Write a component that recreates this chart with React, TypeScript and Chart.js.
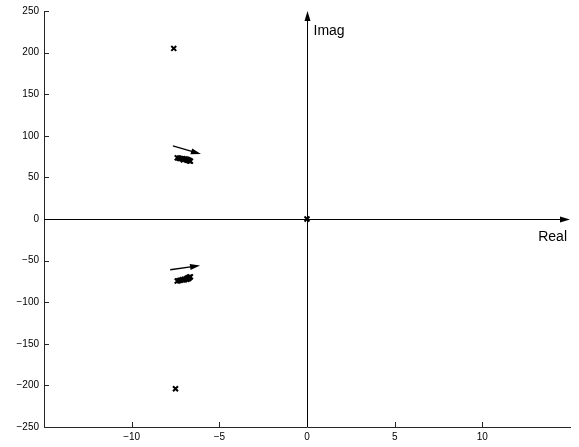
import React, { useEffect, useRef } from "react";
import { Chart, registerables } from "chart.js";
Chart.register(...registerables);

const xTickValues = [-10, -5, 0, 5, 10];
const yTickValues = [-250, -200, -150, -100, -50, 0, 50, 100, 150, 200, 250];

// isolated poles
const polesX = [-7.6, -7.5, 0];
const polesY = [205, -204, 0];

// upper cluster of poles
const upperX = [-7.4, -7.3, -7.2, -7.1, -7.0, -6.9, -6.85, -6.8, -6.75, -6.7, -6.65, -6.8, -6.95, -7.05];
const upperY = [73.5, 73, 72.5, 72.5, 72, 71.5, 71.5, 71, 70.5, 70, 69.5, 70.5, 72, 71];

// lower cluster of poles
const lowerX = [-7.4, -7.3, -7.2, -7.1, -7.0, -6.9, -6.85, -6.8, -6.75, -6.7, -6.65, -6.85, -7.0, -6.75];
const lowerY = [-74.5, -74, -73.5, -73, -72.5, -72, -71.5, -71, -70.5, -70, -69.5, -72.5, -73, -71.5];

// arrows: start and end coordinates
const arrowStartX = [-7.65, -7.8];
const arrowStartY = [88, -61];
const arrowEndX = [-6.05, -6.1];
const arrowEndY = [78, -56];

const toPts = (xs: number[], ys: number[]) => xs.map((x, i) => ({ x, y: ys[i] }));

const minus = (v: number) => (v < 0 ? "\u2212" + Math.abs(v) : String(v));

function drawArrow(ctx: CanvasRenderingContext2D, x1: number, y1: number, x2: number, y2: number, len: number, half: number) {
  const a = Math.atan2(y2 - y1, x2 - x1);
  ctx.beginPath();
  ctx.moveTo(x1, y1);
  ctx.lineTo(x2 - Math.cos(a) * len * 0.6, y2 - Math.sin(a) * len * 0.6);
  ctx.stroke();
  ctx.beginPath();
  ctx.moveTo(x2, y2);
  ctx.lineTo(x2 - Math.cos(a) * len - Math.sin(a) * half, y2 - Math.sin(a) * len + Math.cos(a) * half);
  ctx.lineTo(x2 - Math.cos(a) * len + Math.sin(a) * half, y2 - Math.sin(a) * len - Math.cos(a) * half);
  ctx.closePath();
  ctx.fill();
}

const overlay = {
  id: "overlay",
  afterDatasetsDraw(chart: any) {
    const ctx = chart.ctx as CanvasRenderingContext2D;
    const xs = chart.scales.x;
    const ys = chart.scales.y;
    const area = chart.chartArea;
    ctx.save();
    // inward tick marks
    ctx.strokeStyle = "#262626";
    ctx.lineWidth = 1;
    xTickValues.forEach((v) => {
      const px = Math.round(xs.getPixelForValue(v)) + 0.5;
      ctx.beginPath();
      ctx.moveTo(px, area.bottom);
      ctx.lineTo(px, area.bottom - 5);
      ctx.stroke();
    });
    yTickValues.forEach((v) => {
      const py = Math.round(ys.getPixelForValue(v)) + 0.5;
      ctx.beginPath();
      ctx.moveTo(area.left, py);
      ctx.lineTo(area.left + 5, py);
      ctx.stroke();
    });
    // coordinate axes with arrows
    ctx.strokeStyle = "#000";
    ctx.fillStyle = "#000";
    ctx.lineWidth = 1;
    const y0 = Math.round(ys.getPixelForValue(0)) + 0.5;
    const x0 = Math.round(xs.getPixelForValue(0)) + 0.5;
    drawArrow(ctx, area.left, y0, area.right, y0, 10, 3);
    drawArrow(ctx, x0, area.bottom, x0, area.top, 10, 3);
    // data arrows
    ctx.lineWidth = 1.3;
    for (let i = 0; i < arrowStartX.length; i++) {
      drawArrow(
        ctx,
        xs.getPixelForValue(arrowStartX[i]),
        ys.getPixelForValue(arrowStartY[i]),
        xs.getPixelForValue(arrowEndX[i]),
        ys.getPixelForValue(arrowEndY[i]),
        10,
        3
      );
    }
    // labels
    ctx.font = "14px 'Liberation Sans', Arial, sans-serif";
    ctx.textBaseline = "middle";
    ctx.textAlign = "left";
    ctx.fillText("Imag", x0 + 6, area.top + 20);
    ctx.textAlign = "right";
    ctx.fillText("Real", area.right - 3, y0 + 18);
    ctx.restore();
  },
};

export default function App() {
  const ref = useRef<HTMLCanvasElement>(null);
  useEffect(() => {
    document.body.style.margin = "0";
    const markerStyle = {
      pointStyle: "crossRot" as const,
      pointRadius: 3.5,
      pointBorderWidth: 2,
      pointBorderColor: "#000",
      pointBackgroundColor: "#000",
      showLine: false,
    };
    const chart = new Chart(ref.current!, {
      type: "scatter",
      data: {
        datasets: [
          { data: toPts(polesX, polesY), ...markerStyle },
          { data: toPts(upperX, upperY), ...markerStyle },
          { data: toPts(lowerX, lowerY), ...markerStyle },
        ],
      },
      options: {
        animation: false,
        responsive: false,
        events: [],
        layout: { padding: { top: 11, right: 9, left: 0, bottom: 0 } },
        plugins: { legend: { display: false }, tooltip: { enabled: false } },
        scales: {
          x: {
            type: "linear",
            min: -15,
            max: 15,
            afterBuildTicks: (s: any) => {
              s.ticks = xTickValues.map((v) => ({ value: v }));
            },
            afterFit: (s: any) => {
              s.height = 20;
            },
            grid: { display: false, drawTicks: false },
            border: { display: true, color: "#262626", width: 1 },
            ticks: {
              padding: 4,
              color: "#000",
              font: { family: "'Liberation Sans', Arial, sans-serif", size: 10 },
              callback: (v: any) => minus(Number(v)),
              maxRotation: 0,
            },
          },
          y: {
            type: "linear",
            min: -250,
            max: 250,
            afterBuildTicks: (s: any) => {
              s.ticks = yTickValues.map((v) => ({ value: v }));
            },
            afterFit: (s: any) => {
              s.width = 44;
            },
            grid: { display: false, drawTicks: false },
            border: { display: true, color: "#262626", width: 1 },
            ticks: {
              padding: 5,
              color: "#000",
              font: { family: "'Liberation Sans', Arial, sans-serif", size: 10 },
              callback: (v: any) => minus(Number(v)),
            },
          },
        },
      },
      plugins: [overlay],
    });
    return () => chart.destroy();
  }, []);
  return (
    <div style={{ width: 579, height: 447, background: "#fff" }}>
      <canvas ref={ref} width={579} height={447} style={{ display: "block" }} />
    </div>
  );
}
